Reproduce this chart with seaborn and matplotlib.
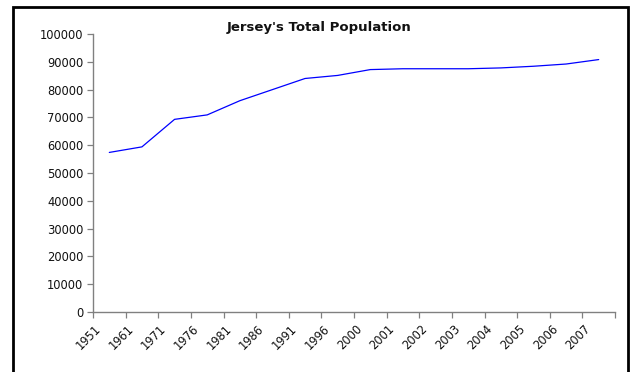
import numpy as np
import pandas as pd
import matplotlib
matplotlib.use("Agg")
import matplotlib.pyplot as plt
import seaborn as sns
from matplotlib.patches import Rectangle
from matplotlib.transforms import ScaledTranslation

YEARS = ["1951", "1961", "1971", "1976", "1981", "1986", "1991", "1996",
         "2000", "2001", "2002", "2003", "2004", "2005", "2006", "2007"]
POPULATION = [57400, 59400, 69300, 70900, 76000, 80000, 84000, 85100,
              87200, 87500, 87500, 87500, 87800, 88400, 89200, 90800]
Y_TICKS = list(range(0, 100001, 10000))

AXIS_GREY = "#808080"
LINE_BLUE = "#0000FF"

sns.set_style("white")
plt.rcParams["font.family"] = ["DejaVu Sans"]

df = pd.DataFrame({"Year": YEARS, "Population": POPULATION})
# Excel-style category axis: points sit in the middle of each category slot
df["pos"] = np.arange(len(df)) + 0.5

fig = plt.figure(figsize=(6.32, 3.72), dpi=100)
ax = fig.add_axes([93 / 632, 1 - 312 / 372, (615 - 93) / 632, (312 - 34) / 372])

sns.lineplot(data=df, x="pos", y="Population", color=LINE_BLUE, linewidth=0.9, ax=ax)

ax.set_xlim(0, len(YEARS))
ax.set_ylim(0, 100000)
ax.set_xticks(np.arange(len(YEARS) + 1))
ax.set_xticklabels(YEARS + [""], rotation=45, ha="right", va="center",
                   rotation_mode="anchor", fontsize=8.3)
ax.set_yticks(Y_TICKS)
ax.set_yticklabels([str(v) for v in Y_TICKS], fontsize=8.3)
ax.set_xlabel("")
ax.set_ylabel("")

for side in ["top", "right"]:
    ax.spines[side].set_visible(False)
for side in ["left", "bottom"]:
    ax.spines[side].set_color(AXIS_GREY)
    ax.spines[side].set_linewidth(1.0)
ax.tick_params(axis="both", direction="out", length=4, width=0.9, color=AXIS_GREY,
               labelcolor="#111111", bottom=True, left=True)
ax.tick_params(axis="x", pad=7)
ax.tick_params(axis="y", pad=3)

# nudge the rotated year labels so their ends sit just right of each tick
shift = ScaledTranslation(6 / 100, 0, fig.dpi_scale_trans)
for lbl in ax.get_xticklabels():
    lbl.set_transform(lbl.get_transform() + shift)

fig.text(319 / 632, 1 - 28 / 372, "Jersey's Total Population", ha="center", va="center",
         fontsize=9.5, fontweight="bold", color="#111111")

# chart frame
fig.patches.append(Rectangle((13 / 632, -0.05), (628 - 13) / 632, 1.05 - 7 / 372,
                             transform=fig.transFigure, fill=False, edgecolor="black",
                             linewidth=2))

fig.savefig("out.png", dpi=100)
